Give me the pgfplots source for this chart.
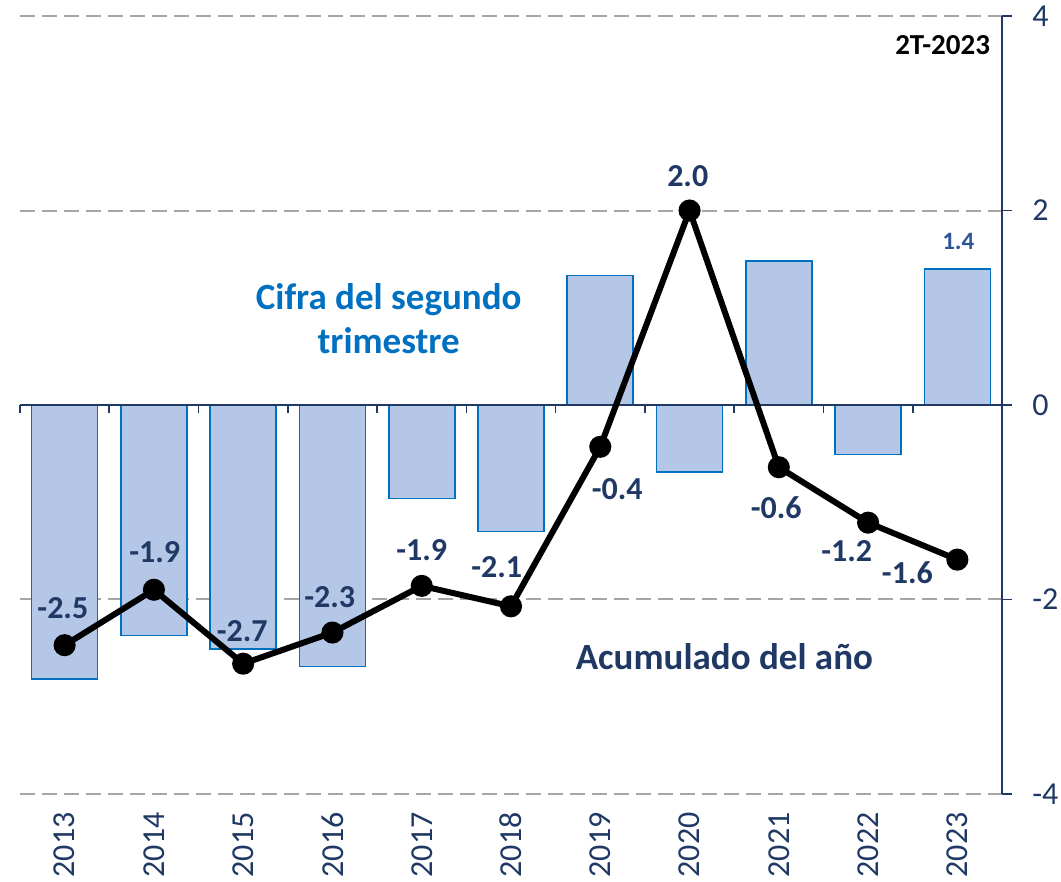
\documentclass[border=0pt]{standalone}
\usepackage{pgfplots}
\pgfplotsset{compat=1.18}
\usepackage{fontspec}
\setmainfont{Carlito}
\definecolor{navy}{HTML}{1F3864}
\definecolor{barfill}{HTML}{B4C7E7}
\definecolor{baredge}{HTML}{0070C0}
\definecolor{gridgray}{HTML}{A6A6A6}
\definecolor{lbl}{HTML}{2F5597}

\begin{document}
\begin{tikzpicture}
\path[use as bounding box] (-10pt,-44pt) rectangle (520.5pt,397pt);
\begin{axis}[
  at={(0,0)}, anchor=south west,
  scale only axis, width=491pt, height=389pt,
  xmin=-0.5, xmax=10.5, ymin=-4, ymax=4,
  axis y line*=right, axis x line*=bottom,
  x axis line style={draw=none},
  y axis line style={navy, line width=0.8pt},
  xtick={0,...,10},
  xticklabels={2013,2014,2015,2016,2017,2018,2019,2020,2021,2022,2023},
  major x tick style={draw=none},
  ytick={-4,-2,0,2,4},
  tick align=outside, major tick length=5pt,
  ytick style={navy, line width=0.8pt},
  ymajorgrids,
  grid style={gridgray, dash pattern=on 7.5pt off 3.5pt, line width=1pt},
  tick label style={font=\fontsize{16}{16}\selectfont, text=navy},
  /pgf/number format/assume math mode=true,
  xticklabel style={rotate=90, anchor=east, inner sep=0pt},
  xticklabel shift=4pt,
  yticklabel style={anchor=west, inner sep=0pt},
  yticklabel shift=10pt,
  clip=false,
]
% second quarter figure (bars)
\addplot[ybar, bar width=33pt, fill=barfill, draw=baredge, line width=0.8pt]
  coordinates {(0,-2.82) (1,-2.37) (2,-2.51) (3,-2.69) (4,-0.96) (5,-1.30)
               (6,1.33) (7,-0.69) (8,1.48) (9,-0.51) (10,1.40)};
% zero line with category ticks
\draw[navy, line width=1pt] (axis cs:-0.5,0) -- (axis cs:10.5,0);
\pgfplotsinvokeforeach{-0.5,0.5,1.5,2.5,3.5,4.5,5.5,6.5,7.5,8.5,9.5}{
  \draw[navy, line width=0.8pt] (axis cs:#1,0) -- ++(0pt,-4pt);
}
% cumulative of the year (line)
\addplot[black, line width=3pt, mark=*, mark size=4pt]
  coordinates {(0,-2.47) (1,-1.90) (2,-2.66) (3,-2.34) (4,-1.86) (5,-2.07)
               (6,-0.43) (7,2.00) (8,-0.64) (9,-1.21) (10,-1.59)};

\begin{scope}[every node/.style={font=\bfseries\fontsize{16}{16}\selectfont, text=navy}]
\node at (axis cs:-0.02,-2.09) {-2.5};
\node at (axis cs:1.01,-1.51) {-1.9};
\node at (axis cs:1.99,-2.33) {-2.7};
\node at (axis cs:2.97,-1.98) {-2.3};
\node at (axis cs:4.00,-1.49) {-1.9};
\node at (axis cs:4.84,-1.67) {-2.1};
\node at (axis cs:6.19,-0.87) {-0.4};
\node at (axis cs:6.98,2.35) {2.0};
\node at (axis cs:7.97,-1.06) {-0.6};
\node at (axis cs:8.76,-1.50) {-1.2};
\node at (axis cs:9.44,-1.72) {-1.6};
\end{scope}
\node[font=\bfseries\fontsize{12.5}{12.5}\selectfont, text=lbl] at (axis cs:10.01,1.68) {1.4};
\node[font=\bfseries\fontsize{18.5}{22}\selectfont, text=baredge, align=center] at (axis cs:3.63,0.89) {Cifra del segundo\\trimestre};
\node[font=\bfseries\fontsize{18.5}{18.5}\selectfont, text=navy] at (axis cs:7.39,-2.59) {Acumulado del año};
\node[font=\bfseries\fontsize{14.5}{14.5}\selectfont, text=black, anchor=east, inner sep=0pt] at (axis cs:10.37,3.70) {2T-2023};
\end{axis}
\end{tikzpicture}
\end{document}
